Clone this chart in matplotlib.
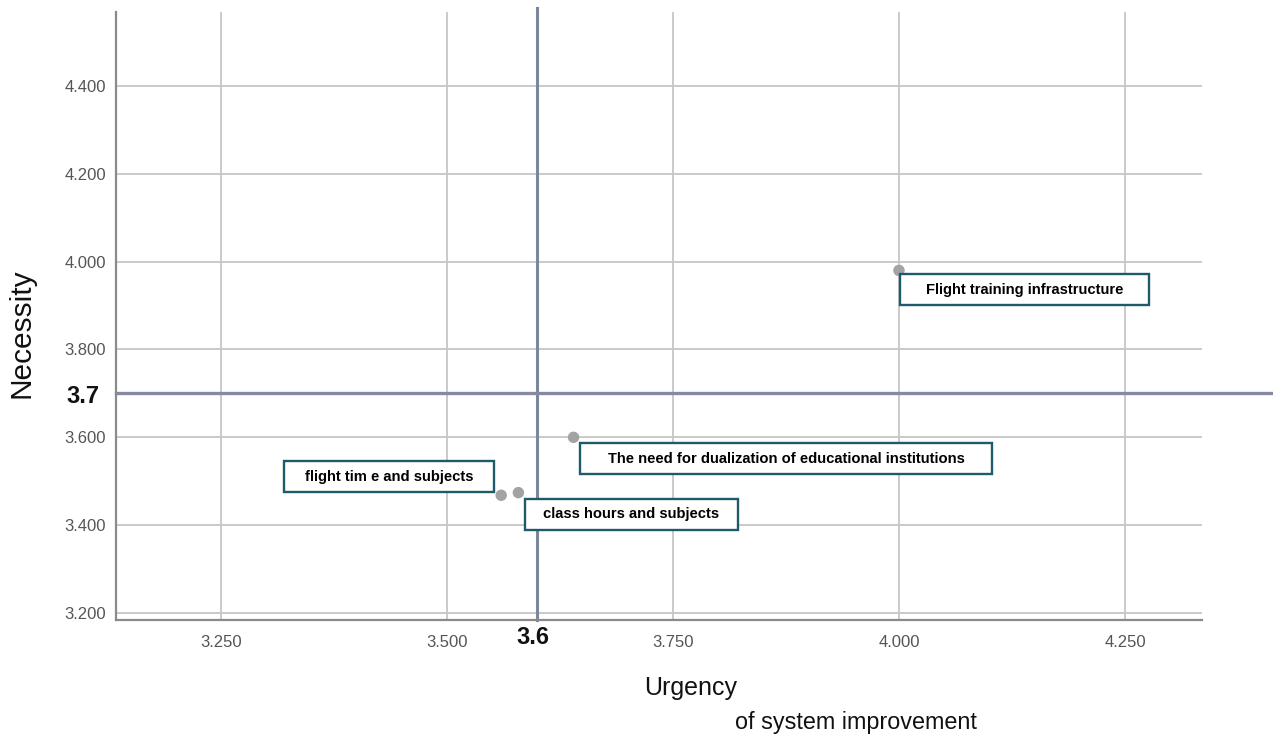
import matplotlib
matplotlib.use("Agg")
import matplotlib.pyplot as plt
from matplotlib.path import Path

# ---- data ----
labels = ["Flight training infrastructure",
          "The need for dualization of educational institutions",
          "flight tim e and subjects",
          "class hours and subjects"]
urgency = [4.000, 3.640, 3.560, 3.579]
necessity = [3.980, 3.600, 3.468, 3.474]
x_ticks = [3.25, 3.50, 3.75, 4.00, 4.25]
x_tick_labels = ["3.250", "3.500", "3.750", "4.000", "4.250"]
y_ticks = [3.2, 3.4, 3.6, 3.8, 4.0, 4.2, 4.4]
y_tick_labels = ["3.200", "3.400", "3.600", "3.800", "4.000", "4.200", "4.400"]
urgency_cut = 3.6
necessity_cut = 3.7

# ---- style ----
W, H, DPI = 1273, 740, 100
fig = plt.figure(figsize=(W / DPI, H / DPI), dpi=DPI)
L, R, T, B = 116, 1202, 12, 620
ax = fig.add_axes([L / W, 1 - B / H, (R - L) / W, (B - T) / H])
ax.set_xlim(3.1339, 4.3352)
ax.set_ylim(3.184, 4.5685)

for s in ["top", "right"]:
    ax.spines[s].set_visible(False)
for s in ["left", "bottom"]:
    ax.spines[s].set_color("#8a8a8a")
    ax.spines[s].set_linewidth(1.6)

ax.set_xticks(x_ticks)
ax.set_xticklabels(x_tick_labels)
ax.set_yticks(y_ticks)
ax.set_yticklabels(y_tick_labels)
ax.tick_params(axis="both", length=0, labelsize=12, labelcolor="#555555")
ax.tick_params(axis="x", pad=11)
ax.tick_params(axis="y", pad=7)
for t in ax.get_xticklabels() + ax.get_yticklabels():
    t.set_fontfamily("Liberation Sans")

ax.grid(True, color="#c6c6c6", linewidth=1.3)
ax.set_axisbelow(True)

# reference lines
ax.axvline(urgency_cut, ymin=0, ymax=1.007, color="#7d879b", linewidth=2.2,
           clip_on=False, zorder=2)
ax.axhline(necessity_cut, xmin=0, xmax=(W - L) / (R - L), color="#858aa0",
           linewidth=2.4, clip_on=False, zorder=2)

ax.annotate(f"{urgency_cut:.1f}", xy=(urgency_cut, 0),
            xycoords=("data", "axes fraction"), xytext=(-4, -18),
            textcoords="offset pixels", ha="center", va="center",
            fontsize=17, fontweight="bold", color="#111111",
            family="Liberation Sans", annotation_clip=False)
ax.annotate(f"{necessity_cut:.1f}", xy=(0, necessity_cut),
            xycoords=("axes fraction", "data"), xytext=(-33, -3),
            textcoords="offset pixels", ha="center", va="center",
            fontsize=17, fontweight="bold", color="#111111",
            family="Liberation Sans", annotation_clip=False)

# points
ax.scatter(urgency, necessity, s=68, color="#a3a3a3", edgecolors="none", zorder=4)


class PadBox:
    def __init__(self, hpad, vpad):
        self.hpad, self.vpad = hpad, vpad

    def __call__(self, x0, y0, width, height, mutation_size):
        hp = self.hpad * mutation_size
        vp = self.vpad * mutation_size
        x0, y0 = x0 - hp, y0 - vp
        x1, y1 = x0 + width + 2 * hp, y0 + height + 2 * vp
        return Path([(x0, y0), (x1, y0), (x1, y1), (x0, y1), (x0, y0)],
                    closed=True)


fs = 10.6
fpx = fs * DPI / 72
vpad_px = 8.5
# offsets (pixels) of box corner from the point, alignment, horizontal pad
placements = [(1, -4, "left", "top", 26),
              (6, -6, "left", "top", 28),
              (-7, 3, "right", "bottom", 21),
              (7, -6, "left", "top", 18)]
for lab, x, y, (dx, dy, ha, va, hp) in zip(labels, urgency, necessity, placements):
    ox = dx + (hp if ha == "left" else -hp)
    oy = dy + (-vpad_px if va == "top" else vpad_px)
    ax.annotate(lab, xy=(x, y), xytext=(ox, oy), textcoords="offset pixels",
                ha=ha, va=va, fontsize=fs, fontweight="bold", color="black",
                family="Liberation Sans", zorder=5,
                bbox=dict(boxstyle=PadBox(hp / fpx, vpad_px / fpx),
                          facecolor="white", edgecolor="#1f5a6c", linewidth=1.7))

# axis titles
fig.text(691 / W, 1 - 688 / H, "Urgency", ha="center", va="center",
         fontsize=18, family="Liberation Sans", color="#111111")
fig.text(856 / W, 1 - 723 / H, "of system improvement", ha="center", va="center",
         fontsize=16.8, family="Liberation Sans", color="#111111")
fig.text(21 / W, 1 - 333 / H, "Necessity", ha="center", va="center",
         rotation=90, fontsize=21.5, family="Liberation Sans", color="#111111")

fig.savefig("out.png", dpi=DPI, facecolor="white")
